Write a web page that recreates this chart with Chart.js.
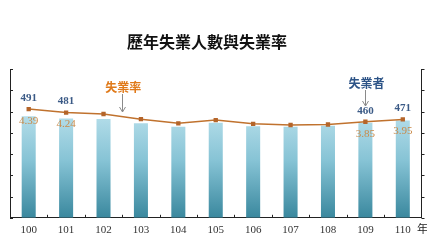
<!DOCTYPE html>
<html>
<head>
<meta charset="utf-8">
<script src="https://cdn.jsdelivr.net/npm/chart.js@4/dist/chart.umd.min.js"></script>
<style>
html,body{margin:0;padding:0;background:#fff;}
#wrap{width:427px;height:240px;position:relative;}
</style>
</head>
<body>
<div id="wrap"><canvas id="c" width="427" height="240"></canvas></div>
<script>
const years = ['100','101','102','103','104','105','106','107','108','109','110'];
const unemployed = [491,481,478,457,440,460,443,440,446,460,471];
const rate = [4.39,4.24,4.18,3.96,3.78,3.92,3.76,3.71,3.73,3.85,3.95];
const labeledIdx = [0,1,9,10];
const titleText = '歷年失業人數與失業率';
const rateNote = '失業率';
const countNote = '失業者';
const yearUnit = '年';
const countMax = 720;
const rateMin = -0.25, rateMax = 6.1;
const tickCount = 7;

function evenTicks(scale){
  const t=[];
  for(let i=0;i<=tickCount;i++) t.push({value: scale.min + (scale.max-scale.min)*i/tickCount});
  scale.ticks=t;
}

const overlay = {
  id:'overlay',
  afterDraw(chart){
    const ctx=chart.ctx, a=chart.chartArea;
    const x=chart.scales.x, y=chart.scales.y, y1=chart.scales.y1;
    ctx.save();
    // title
    ctx.textAlign='center'; ctx.textBaseline='middle';
    ctx.font='bold 16px "Noto Sans CJK TC", sans-serif';
    ctx.fillStyle='#111';
    ctx.fillText(titleText, 207, 42);
    ctx.strokeStyle='#222'; ctx.lineWidth=1;
    for(let i=0;i<=tickCount;i++){
      const py=Math.round(a.top+(a.bottom-a.top)*i/tickCount)+0.5;
      ctx.beginPath(); ctx.moveTo(a.left,py); ctx.lineTo(a.left+3,py); ctx.stroke();
      ctx.beginPath(); ctx.moveTo(a.right,py); ctx.lineTo(a.right+3,py); ctx.stroke();
    }
    const step=(a.right-a.left)/years.length;
    for(let i=1;i<years.length;i++){
      const px=Math.round(a.left+step*i)+0.5;
      ctx.beginPath(); ctx.moveTo(px,a.bottom); ctx.lineTo(px,a.bottom-3); ctx.stroke();
    }
    labeledIdx.forEach(i=>{
      const px=x.getPixelForValue(i);
      const py=y1.getPixelForValue(rate[i]);
      ctx.font='bold 11px "Liberation Serif", serif';
      ctx.fillStyle='#3b5a86';
      ctx.fillText(String(unemployed[i]), px, py-11);
      ctx.font='11px "Liberation Serif", serif';
      ctx.fillStyle='#c98a4a';
      ctx.fillText(rate[i].toFixed(2), px, py+12);
    });
    function arrow(ax, y0, y1p){
      ctx.strokeStyle='#8a8a8a'; ctx.lineWidth=1;
      ctx.beginPath(); ctx.moveTo(ax+0.5,y0); ctx.lineTo(ax+0.5,y1p); ctx.stroke();
      ctx.beginPath(); ctx.moveTo(ax-2.5,y1p-5); ctx.lineTo(ax+0.5,y1p); ctx.lineTo(ax+3.5,y1p-5); ctx.stroke();
    }
    const rx=(x.getPixelForValue(2)+x.getPixelForValue(3))/2;
    ctx.font='bold 12px "Noto Sans CJK TC", sans-serif';
    ctx.fillStyle='#e07a1a';
    ctx.fillText(rateNote, rx+1, 87);
    arrow(Math.round(rx), 94, 112);
    const cx=x.getPixelForValue(9);
    ctx.fillStyle='#2d5487';
    ctx.fillText(countNote, cx+1, 83);
    arrow(Math.round(cx), 90, 106);
    ctx.font='11px "Noto Sans CJK TC", serif';
    ctx.fillStyle='#222';
    ctx.fillText(yearUnit, a.right+1, 229);
    ctx.restore();
  }
};

new Chart(document.getElementById('c'),{
  type:'bar',
  data:{
    labels:years,
    datasets:[
      {type:'line', label:'失業率', data:rate, yAxisID:'y1', order:0,
       borderColor:'#c0722e', borderWidth:1.5, tension:0,
       pointStyle:'rect', pointRadius:2, pointBackgroundColor:'#b5652a', pointBorderColor:'#b5652a'},
      {type:'bar', label:'失業者', data:unemployed, yAxisID:'y', order:1,
       categoryPercentage:1, barPercentage:0.375,
       backgroundColor:(c)=>{
         const ca=c.chart.chartArea; if(!ca) return '#7fbfd2';
         const g=c.chart.ctx.createLinearGradient(0,ca.bottom,0,ca.top+45);
         g.addColorStop(0,'#3a889e'); g.addColorStop(0.55,'#86c3d5'); g.addColorStop(1,'#b5deea');
         return g;
       }}
    ]
  },
  options:{
    responsive:false, animation:false, devicePixelRatio:1,
    layout:{padding:{left:10,right:5,top:69,bottom:-3}},
    plugins:{
      legend:{display:false}, tooltip:{enabled:false}, title:{display:false}
    },
    scales:{
      x:{grid:{display:false, drawTicks:false}, border:{display:true,color:'#222',width:1},
         ticks:{color:'#333', padding:6, font:{family:'"Liberation Serif", serif', size:11}}},
      y:{position:'left', min:0, max:countMax, afterBuildTicks:evenTicks,
         grid:{display:false, drawTicks:false}, border:{display:true,color:'#222',width:1},
         ticks:{display:false}},
      y1:{position:'right', min:rateMin, max:rateMax, afterBuildTicks:evenTicks,
         grid:{display:false, drawTicks:false}, border:{display:true,color:'#222',width:1},
         ticks:{display:false}}
    }
  },
  plugins:[overlay]
});
</script>
</body>
</html>
